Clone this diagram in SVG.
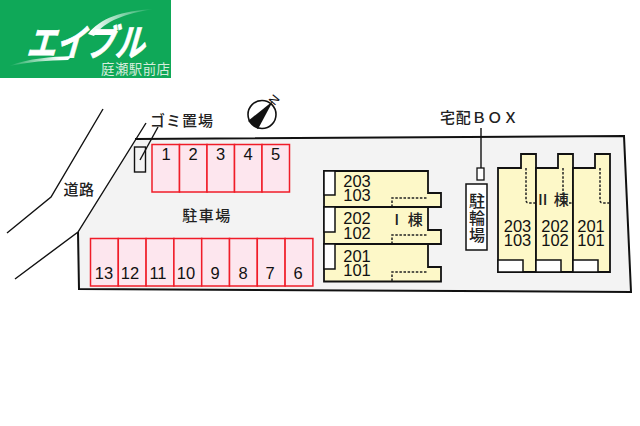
<svg xmlns="http://www.w3.org/2000/svg" width="640" height="426" viewBox="0 0 640 426">
<style>
text{font-family:"Noto Sans CJK JP","Liberation Sans",sans-serif;fill:#222}
.n{font-family:"Liberation Sans",sans-serif;font-size:16.5px;text-anchor:middle;fill:#111}
.j{font-size:15px;text-anchor:middle;font-weight:500}
.slot{fill:#fde6ee;stroke:#f01c28;stroke-width:1.5}
.b{fill:#fdf8c8;stroke:#111;stroke-width:1.8}
.w{fill:#fff;stroke:#111;stroke-width:1.5}
.d{fill:none;stroke:#222;stroke-width:1.5;stroke-dasharray:2.5 1.6}
.l{fill:none;stroke:#111;stroke-width:1.4}
</style>
<defs>
<linearGradient id="sw1" gradientUnits="userSpaceOnUse" x1="90" y1="20" x2="155" y2="10"><stop offset="0" stop-color="#fff"/><stop offset="1" stop-color="#fff" stop-opacity="0"/></linearGradient>
<linearGradient id="sw2" gradientUnits="userSpaceOnUse" x1="8" y1="65" x2="60" y2="58"><stop offset="0" stop-color="#fff" stop-opacity="0"/><stop offset="1" stop-color="#fff"/></linearGradient>
</defs>
<rect width="640" height="426" fill="#fff"/>
<g id="logo">
<rect x="0" y="0" width="171" height="78" fill="#0fa858"/>
<path d="M88 34C100 18 122 11 153 9C125 14 106 20 94 36Z" fill="url(#sw1)"/>
<path d="M9 66C30 58 50 57 72 56L68 60C48 60 28 62 9 66Z" fill="url(#sw2)"/>
<text transform="translate(26 56) skewX(-16)" font-size="37" font-weight="700" textLength="118" lengthAdjust="spacingAndGlyphs" stroke="#fff" stroke-width="0.8" style="fill:#fff">エイブル</text>
<text x="101" y="74" font-size="13.4" textLength="69" style="fill:#d5ecdd">庭瀬駅前店</text>
</g>
<g id="lot">
<path d="M135 139L624 136L631 292L79 289L78 232Z" fill="#f3f3f3"/>
<path d="M135 139L624 136L631 292L79 289L78 232" fill="none" stroke="#111" stroke-width="2"/>
</g>
<g id="roads">
<path class="l" d="M146 123L78 232L15 279"/>
<path class="l" d="M103 109L51 197L7 233"/>
<text class="j" x="79" y="195" letter-spacing="0.5">道路</text>
</g>
<g id="compass">
<circle cx="262" cy="114.500" r="14" fill="#fff" stroke="#111" stroke-width="1.6"/>
<path d="M273 101L248 121L258 129Z" fill="#111"/>
<text transform="translate(274.500 106) rotate(-50)" font-size="12.500" style="font-family:'Liberation Sans',sans-serif;fill:#111">N</text>
</g>
<g id="garbage">
<rect x="134.500" y="147" width="11" height="25" fill="#f3f3f3" stroke="#111" stroke-width="1.4"/>
<path class="l" d="M158 127L140 160"/>
<text class="j" x="182" y="126" letter-spacing="1">ゴミ置場</text>
</g>
<g id="parking-top">
<rect class="slot" x="152" y="144.500" width="27.500" height="47.500"/><rect class="slot" x="179.500" y="144.500" width="27.500" height="47.500"/><rect class="slot" x="207" y="144.500" width="27.500" height="47.500"/><rect class="slot" x="234.500" y="144.500" width="27.500" height="47.500"/><rect class="slot" x="262" y="144.500" width="27.500" height="47.500"/>
<text class="n" x="166" y="160">1</text><text class="n" x="193" y="160">2</text><text class="n" x="220.500" y="160">3</text><text class="n" x="248" y="160">4</text><text class="n" x="275.500" y="160">5</text>
</g>
<text class="j" x="207" y="221" letter-spacing="1.500" id="parking-label">駐車場</text>
<g id="parking-bottom">
<rect class="slot" x="90.500" y="238.500" width="27.800" height="47.500"/><rect class="slot" x="118.300" y="238.500" width="27.800" height="47.500"/><rect class="slot" x="146.100" y="238.500" width="27.800" height="47.500"/><rect class="slot" x="173.900" y="238.500" width="27.800" height="47.500"/><rect class="slot" x="201.700" y="238.500" width="27.800" height="47.500"/><rect class="slot" x="229.500" y="238.500" width="27.800" height="47.500"/><rect class="slot" x="257.300" y="238.500" width="27.800" height="47.500"/><rect class="slot" x="285.100" y="238.500" width="27.800" height="47.500"/>
<text class="n" x="104" y="279">13</text><text class="n" x="130" y="279">12</text><text class="n" x="158" y="279">11</text><text class="n" x="186" y="279">10</text><text class="n" x="215" y="279">9</text><text class="n" x="243" y="279">8</text><text class="n" x="270" y="279">7</text><text class="n" x="298" y="279">6</text>
</g>
<g id="building-1">
<path class="b" d="M324 171H428V193H441V207H324Z"/><rect class="w" x="324" y="171" width="11" height="24"/>
<path class="d" d="M392 207V198H428"/>
<path class="b" d="M324 207H428V230H441V244H324Z"/><rect class="w" x="324" y="207" width="11" height="25"/>
<path class="d" d="M392 244V235H428"/>
<path class="b" d="M324 244H428V267H441V281.500H324Z"/><rect class="w" x="324" y="244" width="11" height="25"/>
<path class="d" d="M392 281V272H428"/>
<text class="n"><tspan x="357" y="187">203</tspan><tspan x="357" y="201">103</tspan></text>
<text class="n"><tspan x="357" y="224">202</tspan><tspan x="357" y="238.500">102</tspan></text>
<text class="n"><tspan x="357" y="262">201</tspan><tspan x="357" y="276">101</tspan></text>
<text x="406" y="225" class="j" font-weight="700" xml:space="preserve">Ⅰ 棟</text>
</g>
<g id="delivery-box">
<rect x="477" y="168" width="7" height="12" fill="#fff" stroke="#111" stroke-width="1.3"/>
<path class="l" d="M481 128V168"/>
<text class="j" x="479" y="123" textLength="78">宅配ＢＯＸ</text>
</g>
<g id="bike-parking">
<rect x="466" y="184" width="21" height="66" fill="#fff" stroke="#111" stroke-width="1.5"/>
<text class="j" x="477" y="218" writing-mode="vertical-rl" letter-spacing="1" style="font-size:16px">駐輪場</text>
</g>
<g id="building-2">
<path class="b" d="M498 168H521V154H536V272H498Z"/><rect class="w" x="498" y="260" width="25" height="12"/><path class="d" d="M526 168V200Q526 203 529 203H536"/>
<path class="b" d="M536 168H558V154H573V272H536Z"/><rect class="w" x="536" y="260" width="25" height="12"/><path class="d" d="M563 168V203H573"/>
<path class="b" d="M573 168H595V154H610V272H573Z"/><rect class="w" x="573" y="260" width="25" height="12"/><path class="d" d="M600 168V200Q600 203 603 203H610"/>
<text class="n"><tspan x="517.500" y="232">203</tspan><tspan x="517.500" y="246">103</tspan></text>
<text class="n"><tspan x="555" y="232">202</tspan><tspan x="555" y="246">102</tspan></text>
<text class="n"><tspan x="591" y="232">201</tspan><tspan x="591" y="246">101</tspan></text>
<text x="552" y="205" class="j" font-weight="700" xml:space="preserve">Ⅱ 棟</text>
</g>
</svg>
